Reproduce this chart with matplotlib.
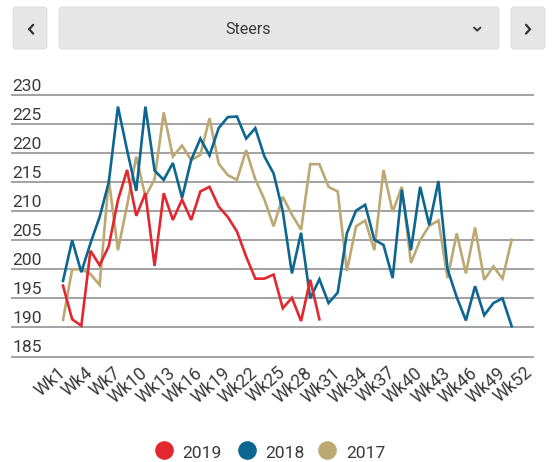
import matplotlib
matplotlib.use("Agg")
import matplotlib.pyplot as plt
from matplotlib.patches import FancyBboxPatch
from matplotlib.transforms import blended_transform_factory

plt.rcParams["font.family"] = ["Roboto", "DejaVu Sans"]

# ---- data -------------------------------------------------------------
weeks = [f"Wk{i}" for i in range(1, 53)]
y_ticks = [185, 190, 195, 200, 205, 210, 215, 220, 225, 230]

steers_2019 = [197.2, 191.4, 190.3, 203.2, 200.7, 204.0, 211.9, 217.1, 209.2, 213.1,
               200.6, 213.1, 208.5, 212.0, 208.5, 213.4, 214.2, 210.8, 209.0, 206.5,
               202.2, 198.4, 198.4, 199.1, 193.3, 195.1, 191.1, 198.2, 191.4]
steers_2018 = [198.0, 205.0, 199.5, 204.5, 209.0, 215.0, 228.0, 220.5, 213.5, 228.0,
               217.0, 215.4, 218.3, 212.3, 218.8, 222.5, 219.6, 224.3, 226.2, 226.3,
               222.5, 224.3, 219.4, 216.5, 210.0, 199.3, 206.3, 195.0, 198.3, 194.2,
               196.0, 206.2, 210.1, 211.1, 205.1, 204.2, 198.5, 213.7, 203.3, 214.2,
               207.6, 215.2, 200.0, 195.2, 191.2, 197.1, 192.1, 194.2, 195.0, 190.2]
steers_2017 = [191.3, 200.0, 200.0, 199.2, 197.3, 215.5, 203.3, 211.0, 219.4, 212.5,
               215.5, 227.0, 219.4, 221.3, 218.8, 219.7, 226.0, 218.2, 216.2, 215.4,
               220.5, 215.5, 212.0, 207.4, 212.5, 209.4, 206.8, 218.1, 218.1, 214.2,
               213.4, 199.7, 207.4, 208.4, 203.3, 217.1, 209.9, 214.2, 201.1, 205.0,
               207.5, 208.4, 198.5, 206.2, 199.3, 207.2, 198.2, 200.5, 198.4, 205.1]

series = [("2019", steers_2019, "#e2272f"),
          ("2018", steers_2018, "#0c6690"),
          ("2017", steers_2017, "#bca872")]

# ---- figure -----------------------------------------------------------
W, H = 553, 462
fig = plt.figure(figsize=(W / 100, H / 100), dpi=100)
fig.patch.set_facecolor("white")

# full-figure pixel canvas for the header controls and legend
ui = fig.add_axes([0, 0, 1, 1])
ui.set_xlim(0, W)
ui.set_ylim(H, 0)
ui.axis("off")
ui.patch.set_visible(False)

box_color = "#e6e6e6"
for x0, x1 in [(13, 47), (59, 499), (511, 545)]:
    ui.add_patch(FancyBboxPatch((x0 + 2, 9), (x1 - x0) - 4, 38,
                                boxstyle="round,pad=2,rounding_size=3",
                                facecolor=box_color, edgecolor="#dcdcdc",
                                linewidth=0.6))
ink = "#333333"
ui.plot([33.2, 29.2, 33.2], [24.8, 29.2, 33.6], color=ink, lw=1.6,
        solid_capstyle="round", solid_joinstyle="miter")
ui.plot([526.0, 530.0, 526.0], [24.8, 29.2, 33.6], color=ink, lw=1.6,
        solid_capstyle="round", solid_joinstyle="miter")
ui.plot([474.0, 477.2, 480.4], [27.6, 30.6, 27.6], color=ink, lw=1.4,
        solid_capstyle="round")
ui.text(248, 29.5, "Steers", ha="center", va="center", fontsize=11.6,
        color="#3a3a3a")

# ---- chart area -------------------------------------------------------
px_top, px_bot = 95.0, 356.5
gx0, gx1 = 12.0, 533.0
first_px, last_px = 63.0, 530.0
step = (last_px - first_px) / 51

ax = fig.add_axes([gx0 / W, (H - px_bot) / H, (gx1 - gx0) / W, (px_bot - px_top) / H])
ax.set_xlim(-(first_px - gx0) / step, 51 + (gx1 - last_px) / step)
ax.set_ylim(y_ticks[0], y_ticks[-1])
ax.patch.set_visible(False)
for s in ax.spines.values():
    s.set_visible(False)

for v in y_ticks:
    ax.axhline(v, color="#9e9e9e", lw=1.35, clip_on=False, zorder=1)

ax.set_yticks([])
lbl_tr = blended_transform_factory(ax.transAxes, ax.transData)
for v in y_ticks:
    ax.annotate(str(v), xy=(0, v), xycoords=lbl_tr, xytext=(0.5, 3),
                textcoords="offset points", ha="left", va="baseline",
                fontsize=12.6, color="#3a3a3a")

tick_idx = list(range(0, 52, 3))
ax.set_xticks(tick_idx)
ax.set_xticklabels([weeks[i] for i in tick_idx], rotation=41, ha="right",
                   va="center", rotation_mode="anchor", fontsize=12.8,
                   color="#3a3a3a")
ax.tick_params(axis="x", length=0, pad=10)

for name, vals, col in reversed(series):
    ax.plot(range(len(vals)), vals, color=col, lw=1.9, zorder=3,
            solid_joinstyle="miter", clip_on=False)

# ---- legend -----------------------------------------------------------
leg_y = 450
for (name, _, col), cx in zip(series, [163.5, 246.5, 327.0]):
    ui.plot([cx], [leg_y], marker="o", ms=12.4, color=col, linestyle="none")
    ui.text(cx + 19, leg_y + 8, name, ha="left", va="baseline",
            fontsize=12.6, color="#3a3a3a")

fig.savefig("out.png", dpi=100)
